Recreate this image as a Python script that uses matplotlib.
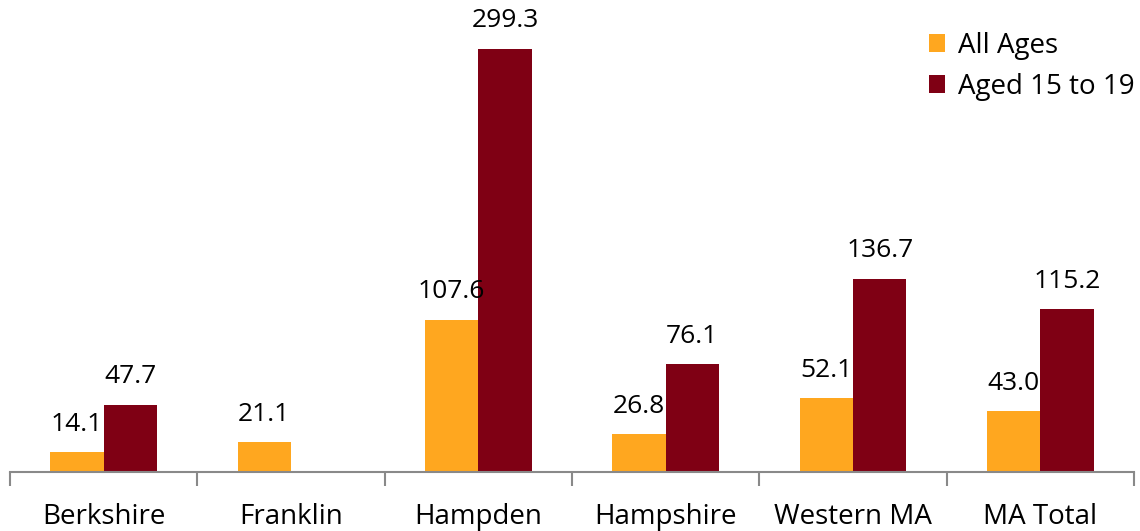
import numpy as np
import matplotlib.pyplot as plt

plt.rcParams['font.family'] = ['Open Sans', 'DejaVu Sans']

# data
categories = ["Berkshire", "Franklin", "Hampden", "Hampshire", "Western MA", "MA Total"]
all_ages = [14.1, 21.1, 107.6, 26.8, 52.1, 43.0]
aged_15_19 = [47.7, np.nan, 299.3, 76.1, 136.7, 115.2]

orange = '#FFA71F'
maroon = '#7F0014'

fig = plt.figure(figsize=(11.4, 5.31), dpi=100)
ax = fig.add_axes([10/1140, 59/531, 1124/1140, 472/531])

x = np.arange(len(categories))
w = 0.285
b1 = ax.bar(x - w/2, all_ages, w, color=orange, label='All Ages')
b2 = ax.bar(x + w/2, aged_15_19, w, color=maroon, label='Aged 15 to 19')

for bars, vals in [(b1, all_ages), (b2, aged_15_19)]:
    for rect, v in zip(bars, vals):
        if np.isnan(v):
            continue
        ax.text(rect.get_x() + rect.get_width()/2, v + 11, f"{v:.1f}",
                ha='center', va='bottom', fontsize=19)

ax.set_xlim(-0.5, len(categories) - 0.5)
ax.set_ylim(0, 334)
ax.set_yticks([])
for s in ['top', 'right', 'left']:
    ax.spines[s].set_visible(False)
ax.spines['bottom'].set_color('#898989')
ax.spines['bottom'].set_linewidth(1.5)

# category labels centered, tick marks between categories
ax.set_xticks(x)
ax.set_xticklabels(categories, fontsize=20)
ax.tick_params(axis='x', which='major', length=0, pad=22)
ax.set_xticks(np.arange(len(categories) + 1) - 0.5, minor=True)
ax.tick_params(axis='x', which='minor', length=10, width=1.5, color='#898989')

ax.legend(loc='upper left', bbox_to_anchor=(0.795, 0.985), frameon=False,
          fontsize=20, handlelength=0.6, handleheight=0.6, handletextpad=0.45,
          labelspacing=0.45)

fig.savefig('out.png', dpi=100)
